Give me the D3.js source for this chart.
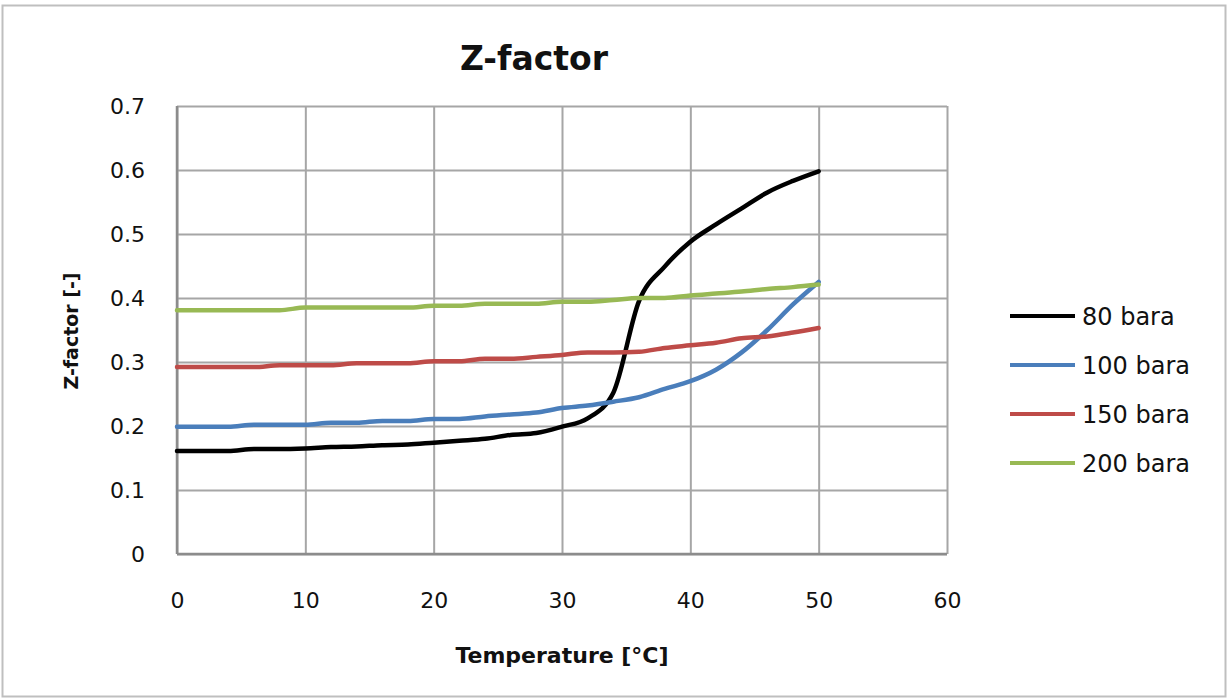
<!DOCTYPE html>
<html>
<head>
<meta charset="utf-8">
<script src="https://cdn.jsdelivr.net/npm/d3@7"></script>
<style>
  body { margin: 0; background: #fff; }
  text { font-family: "DejaVu Sans", sans-serif; fill: #111; }
  .grid line { stroke: #a6a6a6; stroke-width: 2; }
</style>
</head>
<body>
<div class="chart"></div>
<script>
var width = 1229
var height = 700

// temperatures, every 2 degrees
var temps = [0, 2, 4, 6, 8, 10, 12, 14, 16, 18, 20, 22, 24, 26, 28, 30, 32, 34, 36, 38, 40, 42, 44, 46, 48, 50];

var z80 = [0.161, 0.161, 0.161, 0.164, 0.164, 0.165, 0.167, 0.168, 0.170, 0.171, 0.174, 0.177, 0.180, 0.186, 0.189, 0.199, 0.212, 0.252, 0.395, 0.449, 0.488, 0.515, 0.540, 0.565, 0.583, 0.598];
var z100 = [0.199, 0.199, 0.199, 0.202, 0.202, 0.202, 0.205, 0.205, 0.208, 0.208, 0.211, 0.211, 0.215, 0.218, 0.221, 0.228, 0.232, 0.238, 0.245, 0.258, 0.270, 0.288, 0.315, 0.350, 0.390, 0.425];
var z150 = [0.292, 0.292, 0.292, 0.292, 0.295, 0.295, 0.295, 0.298, 0.298, 0.298, 0.301, 0.301, 0.305, 0.305, 0.308, 0.311, 0.315, 0.315, 0.316, 0.322, 0.326, 0.330, 0.337, 0.340, 0.346, 0.353];
var z200 = [0.381, 0.381, 0.381, 0.381, 0.381, 0.385, 0.385, 0.385, 0.385, 0.385, 0.388, 0.388, 0.391, 0.391, 0.391, 0.394, 0.394, 0.397, 0.400, 0.400, 0.404, 0.407, 0.410, 0.414, 0.417, 0.421];

var seriesNames = ["80 bara", "100 bara", "150 bara", "200 bara"];
var seriesColors = ["#000000", "#4a7ebb", "#be4b48", "#98b954"];
var seriesValues = [z80, z100, z150, z200];

var xTicks = [0, 10, 20, 30, 40, 50, 60];
var yTicks = [0, 0.1, 0.2, 0.3, 0.4, 0.5, 0.6, 0.7];

var plot = { left: 177, top: 106, right: 947, bottom: 554 };

var svg = d3.select(".chart").append("svg")
            .attr("width", width)
            .attr("height", height);

// outer frame
svg.append("rect")
   .attr("x", 2.5).attr("y", 5.5)
   .attr("width", 1223).attr("height", 691)
   .attr("fill", "none")
   .attr("stroke", "#bfbfbf")
   .attr("stroke-width", 2);

var x = d3.scaleLinear().domain([0, 60]).range([plot.left, plot.right]);
var y = d3.scaleLinear().domain([0, 0.7]).range([plot.bottom, plot.top]);

// gridlines
svg.append("g")
   .attr("class", "grid")
   .attr("transform", "translate(0," + plot.bottom + ")")
   .call(d3.axisBottom(x).tickValues(xTicks).tickSize(-(plot.bottom - plot.top)).tickFormat(""))
   .call(function(g) { g.select(".domain").remove(); });

svg.append("g")
   .attr("class", "grid")
   .attr("transform", "translate(" + plot.left + ",0)")
   .call(d3.axisLeft(y).tickValues(yTicks).tickSize(-(plot.right - plot.left)).tickFormat(""))
   .call(function(g) { g.select(".domain").remove(); });

// axis lines
svg.append("line")
   .attr("x1", plot.left).attr("y1", plot.top)
   .attr("x2", plot.left).attr("y2", plot.bottom)
   .attr("stroke", "#8c8c8c").attr("stroke-width", 2.5);
svg.append("line")
   .attr("x1", plot.left).attr("y1", plot.bottom)
   .attr("x2", plot.right).attr("y2", plot.bottom)
   .attr("stroke", "#8c8c8c").attr("stroke-width", 2.5);

// tick labels
var xAxis = svg.append("g")
   .attr("transform", "translate(0," + plot.bottom + ")")
   .call(d3.axisBottom(x).tickValues(xTicks).tickSize(0).tickPadding(38).tickFormat(d3.format("d")));
xAxis.select(".domain").remove();
xAxis.selectAll("text").attr("font-size", 22).style("font-family", "'DejaVu Sans', sans-serif").attr("fill", "#111");

var yAxis = svg.append("g")
   .attr("transform", "translate(" + plot.left + ",0)")
   .call(d3.axisLeft(y).tickValues(yTicks).tickSize(0).tickPadding(32).tickFormat(function(d) { return d === 0 ? "0" : d3.format(".1f")(d); }));
yAxis.select(".domain").remove();
yAxis.selectAll("text").attr("font-size", 22).style("font-family", "'DejaVu Sans', sans-serif").attr("fill", "#111");

// series lines
var line = d3.line()
   .x(function(d, i) { return x(temps[i]); })
   .y(function(d) { return y(d); })
   .curve(d3.curveMonotoneX);

svg.selectAll("path.series")
   .data(seriesValues)
   .enter()
   .append("path")
   .attr("class", "series")
   .attr("d", function(d) { return line(d); })
   .attr("fill", "none")
   .attr("stroke", function(d, i) { return seriesColors[i]; })
   .attr("stroke-width", 4.5)
   .attr("stroke-linejoin", "round")
   .attr("stroke-linecap", "round");

// legend
var legend = svg.selectAll("g.legend")
   .data(seriesNames)
   .enter()
   .append("g")
   .attr("class", "legend")
   .attr("transform", function(d, i) { return "translate(1010," + (316 + i * 49) + ")"; });

legend.append("line")
   .attr("x1", 0).attr("x2", 65)
   .attr("y1", 0).attr("y2", 0)
   .attr("stroke", function(d, i) { return seriesColors[i]; })
   .attr("stroke-width", 4);

legend.append("text")
   .attr("x", 72)
   .attr("y", 9)
   .attr("font-size", 24)
   .text(function(d) { return d; });

// titles
svg.append("text")
   .attr("x", 534)
   .attr("y", 70)
   .attr("text-anchor", "middle")
   .attr("font-size", 33)
   .attr("font-weight", "bold")
   .text("Z-factor");

svg.append("text")
   .attr("x", 562)
   .attr("y", 663)
   .attr("text-anchor", "middle")
   .attr("font-size", 22)
   .attr("font-weight", "bold")
   .text("Temperature [°C]");

svg.append("text")
   .attr("transform", "translate(78,331) rotate(-90)")
   .attr("text-anchor", "middle")
   .attr("font-size", 19)
   .attr("font-weight", "bold")
   .text("Z-factor [-]");
</script>
</body>
</html>
